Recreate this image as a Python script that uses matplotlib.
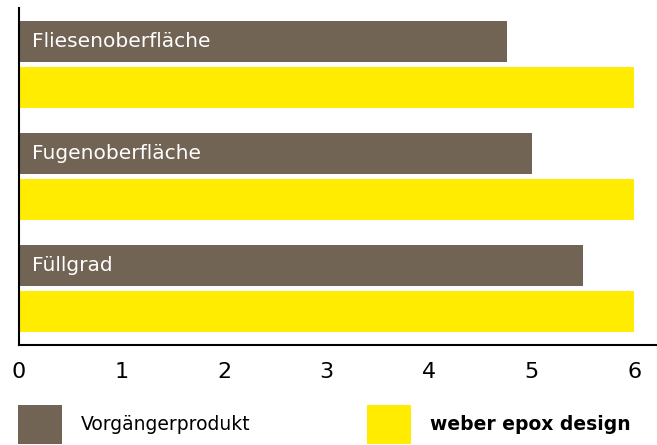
import matplotlib
matplotlib.use("Agg")
from matplotlib import pyplot as plt
import numpy as np

kategorien = ["Fliesenoberfläche", "Fugenoberfläche", "Füllgrad"]
vorgaenger = [4.76, 5.0, 5.5]
weber = [6.0, 6.0, 6.0]
x_ticks = [0, 1, 2, 3, 4, 5, 6]
serien = ["Vorgängerprodukt", "weber epox design"]

braun = "#716454"
gelb = "#ffec00"

plt.rcParams["font.family"] = ["DejaVu Sans"]

fig = plt.figure(figsize=(6.57, 4.45), dpi=100)
# achse: links x=19px, unten y=345px, oben y=8px
ax = fig.add_axes([19 / 657, 1 - 345 / 445, 638 / 657, 337 / 445])

y = np.arange(len(kategorien))
h = 0.366
b1 = ax.barh(y - 0.205, vorgaenger, height=h, color=braun, label=serien[0])
b2 = ax.barh(y + 0.205, weber, height=h, color=gelb, label=serien[1])

for i, name in enumerate(kategorien):
    ax.text(0.13, y[i] - 0.205, name, color="white", fontsize=14.5, va="center", ha="left")

ax.set_xlim(0, 6.22)
ax.set_ylim(2.5, -0.5)
ax.set_xticks(x_ticks)
ax.set_xticklabels([str(t) for t in x_ticks], fontsize=16)
ax.tick_params(axis="x", length=0, pad=12)
ax.set_yticks([])
ax.spines["top"].set_visible(False)
ax.spines["right"].set_visible(False)
ax.spines["left"].set_linewidth(1.5)
ax.spines["bottom"].set_linewidth(1.5)

# legende: zwei einzelne eintraege
opts = dict(loc="upper left", bbox_transform=fig.transFigure, frameon=False,
            fontsize=13.5, handlelength=2.35, handleheight=2.85,
            handletextpad=1.0, borderpad=0, borderaxespad=0)
leg1 = ax.legend(handles=[b1], bbox_to_anchor=(18 / 657, 1 - 405 / 445), **opts)
ax.add_artist(leg1)
leg2 = ax.legend(handles=[b2], bbox_to_anchor=(367 / 657, 1 - 405 / 445), **opts)
leg2.get_texts()[0].set_fontweight("bold")

plt.savefig("out.png", dpi=100)
